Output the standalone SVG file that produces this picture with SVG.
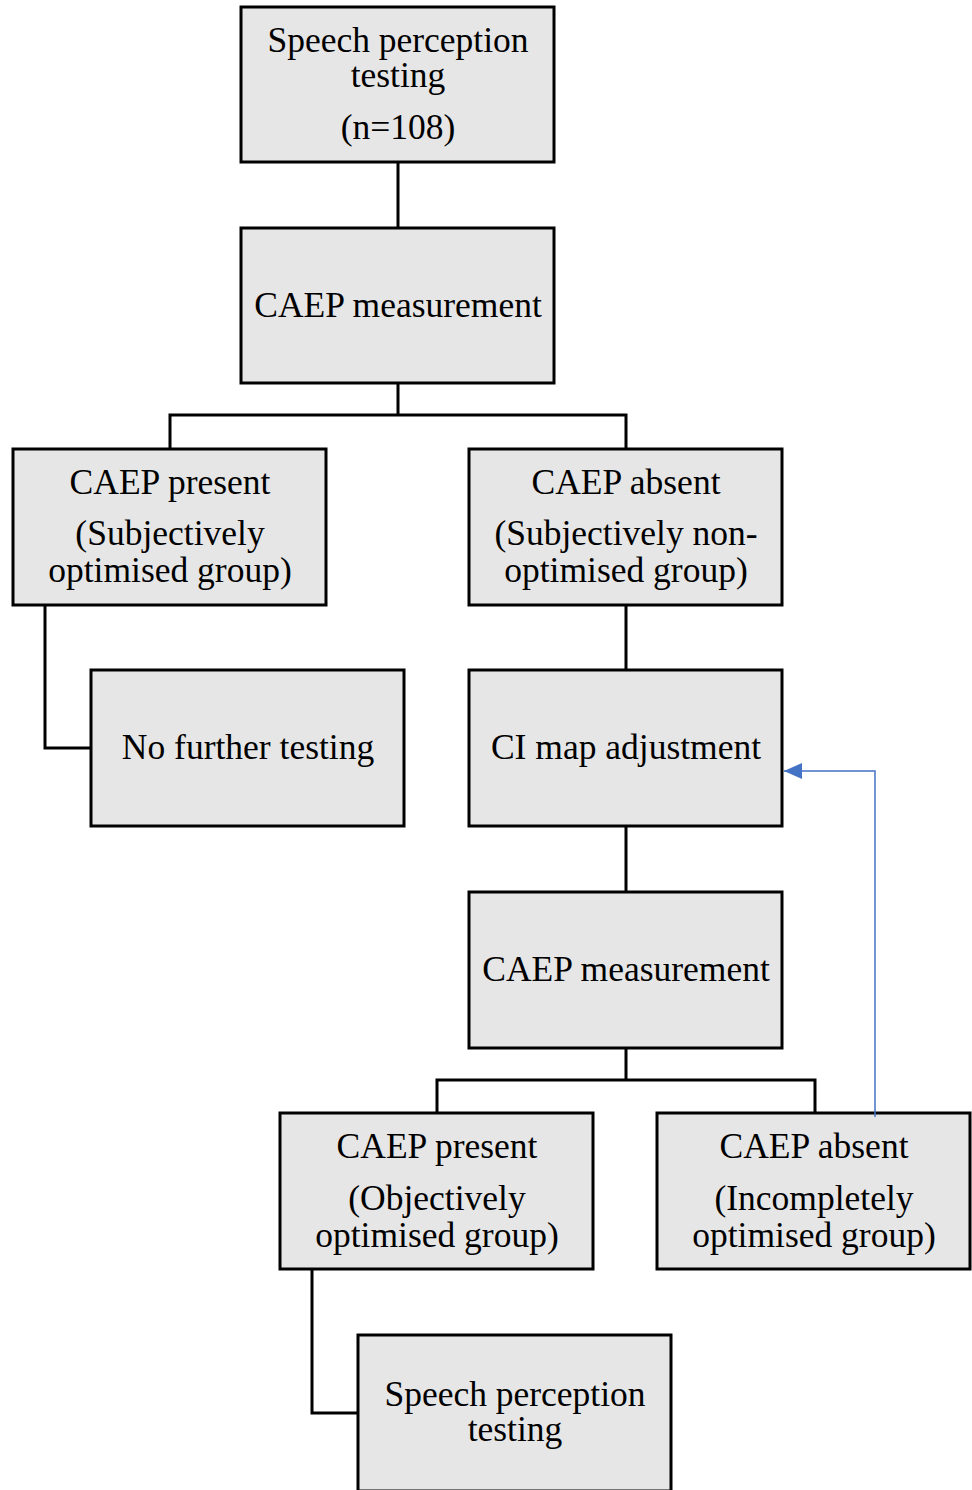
<svg xmlns="http://www.w3.org/2000/svg" width="972" height="1490" viewBox="0 0 972 1490">
<defs>
<style>
.box{fill:#e6e6e6;stroke:#000;stroke-width:3}
.t{font-family:"Liberation Serif","Times New Roman",serif;font-size:35.5px;fill:#000;text-anchor:middle}
.c{fill:none;stroke:#000;stroke-width:3}
.b{fill:none;stroke:#4472c4;stroke-width:1.5}
</style>
<marker id="ah" markerWidth="18" markerHeight="16" refX="18" refY="8" orient="auto" markerUnits="userSpaceOnUse" viewBox="0 0 18 16">
<path d="M0,0 L18,8 L0,16 Z" fill="#4472c4"/>
</marker>
</defs>
<rect width="972" height="1490" fill="#fff"/>
<g id="connectors">
<path class="c" d="M398,162 V228"/>
<path class="c" d="M398,383 V415 M170,449 V415 H626 V449"/>
<path class="c" d="M45,605 V748 H91"/>
<path class="c" d="M626,605 V670"/>
<path class="c" d="M626,826 V892"/>
<path class="c" d="M626,1048 V1080 M437,1113 V1080 H815 V1113"/>
<path class="c" d="M312,1269 V1413 H358"/>
</g>
<g id="n1"><rect class="box" x="241" y="7" width="313" height="155"/>
<text class="t" x="398" y="52">Speech perception</text><text class="t" x="398" y="87">testing</text><text class="t" x="398" y="139">(n=108)</text></g>
<g id="n2"><rect class="box" x="241" y="228" width="313" height="155"/>
<text class="t" x="398" y="317">CAEP measurement</text></g>
<g id="n3"><rect class="box" x="13" y="449" width="313" height="156"/>
<text class="t" x="170" y="494">CAEP present</text><text class="t" x="170" y="545">(Subjectively</text><text class="t" x="170" y="582">optimised group)</text></g>
<g id="n4"><rect class="box" x="469" y="449" width="313" height="156"/>
<text class="t" x="626" y="494">CAEP absent</text><text class="t" x="626" y="545">(Subjectively non-</text><text class="t" x="626" y="582">optimised group)</text></g>
<g id="n5"><rect class="box" x="91" y="670" width="313" height="156"/>
<text class="t" x="248" y="759">No further testing</text></g>
<g id="n6"><rect class="box" x="469" y="670" width="313" height="156"/>
<text class="t" x="626" y="759">CI map adjustment</text></g>
<g id="n7"><rect class="box" x="469" y="892" width="313" height="156"/>
<text class="t" x="626" y="981">CAEP measurement</text></g>
<g id="n8"><rect class="box" x="280" y="1113" width="313" height="156"/>
<text class="t" x="437" y="1158">CAEP present</text><text class="t" x="437" y="1210">(Objectively</text><text class="t" x="437" y="1247">optimised group)</text></g>
<g id="n9"><rect class="box" x="657" y="1113" width="313" height="156"/>
<text class="t" x="814" y="1158">CAEP absent</text><text class="t" x="814" y="1210">(Incompletely</text><text class="t" x="814" y="1247">optimised group)</text></g>
<g id="n10"><rect class="box" x="358" y="1335" width="313" height="156"/>
<text class="t" x="515" y="1406">Speech perception</text><text class="t" x="515" y="1441">testing</text></g>
<g id="feedback"><path class="b" d="M875,1117 V771 H784" marker-end="url(#ah)"/></g>
</svg>
